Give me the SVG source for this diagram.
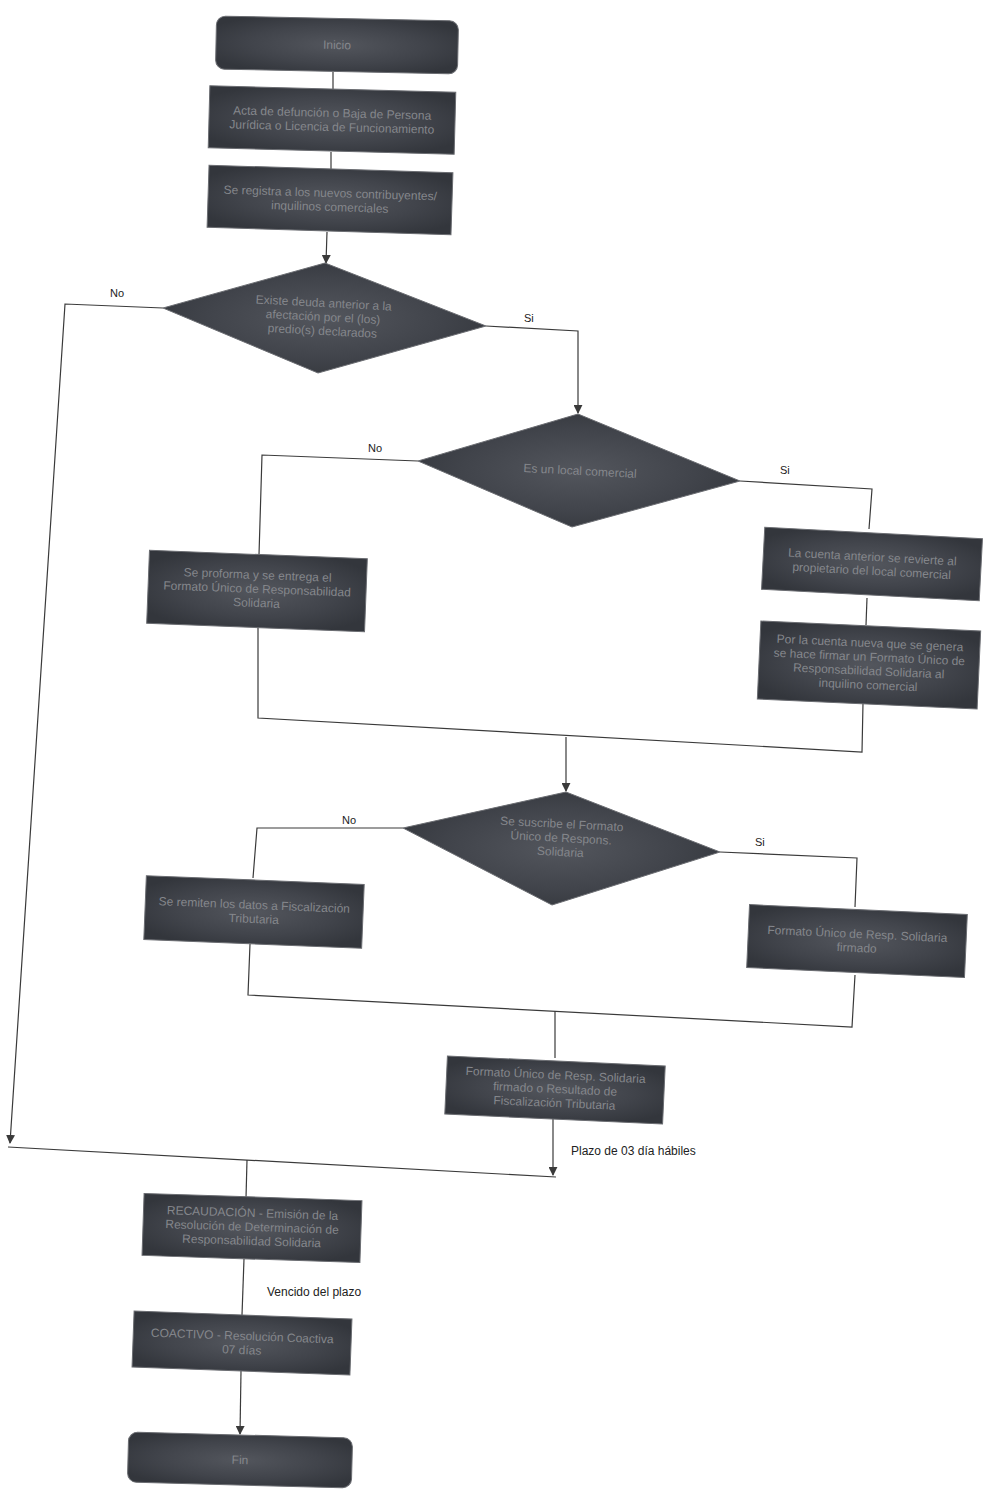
<svg xmlns="http://www.w3.org/2000/svg" width="992" height="1495" viewBox="0 0 992 1495">
<defs>
<radialGradient id="g" cx="50%" cy="50%" r="60%">
<stop offset="0" stop-color="#53565d"/>
<stop offset="0.6" stop-color="#41444b"/>
<stop offset="1" stop-color="#33363c"/>
</radialGradient>
<marker id="ar" viewBox="0 0 10 10" refX="9" refY="5" markerWidth="9" markerHeight="9" orient="auto" markerUnits="userSpaceOnUse">
<path d="M0,0 L10,5 L0,10 z" fill="#3a3a3a"/>
</marker>
<style>
.n{fill:url(#g);stroke:#6b6d72;stroke-width:1}
.t{font-family:"Liberation Sans",Arial,sans-serif;font-size:12px;fill:#85878c;text-anchor:middle}
.l{font-family:"Liberation Sans",Arial,sans-serif;font-size:11px;fill:#222}
.p{font-family:"Liberation Sans",Arial,sans-serif;font-size:12px;fill:#222}
.c{fill:none;stroke:#3a3a3a;stroke-width:1.2}
</style>
</defs>
<rect width="992" height="1495" fill="#ffffff"/>

<g id="connectors">
<path class="c" d="M333,72 L333,89"/>
<path class="c" d="M331,152 L331,169"/>
<path class="c" d="M327,232 L326,263" marker-end="url(#ar)"/>
<path class="c" d="M163,308 L65,304 L10,1143" marker-end="url(#ar)"/>
<path class="c" d="M486,326 L578,331 L578,413" marker-end="url(#ar)"/>
<path class="c" d="M418,461 L262,455 L259,555"/>
<path class="c" d="M740,481 L872,489 L869,529"/>
<path class="c" d="M867,598 L866,625"/>
<path class="c" d="M258,626 L258,718 L862,752 L863,703"/>
<path class="c" d="M566,737 L566,791" marker-end="url(#ar)"/>
<path class="c" d="M403,828 L257,828 L253,878"/>
<path class="c" d="M720,852 L857,858 L855,907"/>
<path class="c" d="M250,944 L248,995 L852,1027 L855,975"/>
<path class="c" d="M555,1011 L555,1058"/>
<path class="c" d="M553,1119 L553,1175" marker-end="url(#ar)"/>
<path class="c" d="M8,1147 L556,1177"/>
<path class="c" d="M247,1160 L246,1198"/>
<path class="c" d="M244,1259 L242,1315"/>
<path class="c" d="M241,1371 L240,1434" marker-end="url(#ar)"/>
<text class="l" x="110" y="297">No</text>
<text class="l" x="524" y="322">Si</text>
<text class="l" x="368" y="452">No</text>
<text class="l" x="780" y="474">Si</text>
<text class="l" x="342" y="824">No</text>
<text class="l" x="755" y="846">Si</text>
<text class="p" x="571" y="1155">Plazo de 03 día hábiles</text>
<text class="p" x="267" y="1296">Vencido del plazo</text>
</g>

<g id="inicio" transform="rotate(1.2 337 45)">
<rect class="n" x="216" y="18.5" width="242" height="53" rx="9"/>
<text class="t" x="337" y="49">Inicio</text>
</g>
<g id="acta" transform="rotate(1.5 332 120)">
<rect class="n" x="209" y="89" width="246" height="62"/>
<text class="t" x="332" y="117">Acta de defunción o Baja de Persona</text>
<text class="t" x="332" y="131">Jurídica o Licencia de Funcionamiento</text>
</g>
<g id="registra" transform="rotate(1.8 330 200)">
<rect class="n" x="208" y="169" width="244" height="62"/>
<text class="t" x="330" y="197">Se registra a los nuevos contribuyentes/</text>
<text class="t" x="330" y="211">inquilinos comerciales</text>
</g>
<g id="d1">
<polygon class="n" points="325,263 486,326 318,373 163,308"/>
<g transform="rotate(3 323 318)">
<text class="t" x="323" y="307">Existe deuda anterior a la</text>
<text class="t" x="323" y="321">afectación por el (los)</text>
<text class="t" x="323" y="335">predio(s) declarados</text>
</g>
</g>
<g id="d2">
<polygon class="n" points="578,414 740,481 572,527 418,461"/>
<text class="t" x="580" y="475" transform="rotate(3 580 471)">Es un local comercial</text>
</g>
<g id="proforma" transform="rotate(2.2 257 591)">
<rect class="n" x="148" y="554.5" width="218" height="73"/>
<text class="t" x="257" y="579">Se proforma y se entrega el</text>
<text class="t" x="257" y="593">Formato Único de Responsabilidad</text>
<text class="t" x="257" y="607">Solidaria</text>
</g>
<g id="cuenta" transform="rotate(3 872 564)">
<rect class="n" x="763" y="533" width="218" height="62"/>
<text class="t" x="872" y="561">La cuenta anterior se revierte al</text>
<text class="t" x="872" y="575">propietario del local comercial</text>
</g>
<g id="nueva" transform="rotate(2.6 869 665)">
<rect class="n" x="759" y="626" width="220" height="78"/>
<text class="t" x="869" y="647">Por la cuenta nueva que se genera</text>
<text class="t" x="869" y="661">se hace firmar un Formato Único de</text>
<text class="t" x="869" y="675">Responsabilidad Solidaria al</text>
<text class="t" x="869" y="689">inquilino comercial</text>
</g>
<g id="d3">
<polygon class="n" points="566,792 720,852 552,905 403,828"/>
<g transform="rotate(3 561 840)">
<text class="t" x="561" y="828">Se suscribe el Formato</text>
<text class="t" x="561" y="842">Único de Respons.</text>
<text class="t" x="561" y="856">Solidaria</text>
</g>
</g>
<g id="remiten" transform="rotate(2.3 254 912)">
<rect class="n" x="145" y="880" width="218" height="64"/>
<text class="t" x="254" y="909">Se remiten los datos a Fiscalización</text>
<text class="t" x="254" y="923">Tributaria</text>
</g>
<g id="firmado" transform="rotate(2.6 857 941)">
<rect class="n" x="748" y="909.5" width="218" height="63"/>
<text class="t" x="857" y="938">Formato Único de Resp. Solidaria</text>
<text class="t" x="857" y="952">firmado</text>
</g>
<g id="formato" transform="rotate(2.6 555 1090)">
<rect class="n" x="446" y="1061" width="218" height="58"/>
<text class="t" x="555" y="1079">Formato Único de Resp. Solidaria</text>
<text class="t" x="555" y="1093">firmado o Resultado de</text>
<text class="t" x="555" y="1107">Fiscalización Tributaria</text>
</g>
<g id="recaudacion" transform="rotate(1.9 252 1228)">
<rect class="n" x="143" y="1197" width="218" height="62"/>
<text class="t" x="252" y="1217">RECAUDACIÓN  - Emisión de la</text>
<text class="t" x="252" y="1231">Resolución de Determinación de</text>
<text class="t" x="252" y="1245">Responsabilidad Solidaria</text>
</g>
<g id="coactivo" transform="rotate(2.1 242 1343)">
<rect class="n" x="133" y="1315" width="218" height="56"/>
<text class="t" x="242" y="1340">COACTIVO  - Resolución Coactiva</text>
<text class="t" x="242" y="1354">07 días</text>
</g>
<g id="fin" transform="rotate(1.5 240 1460)">
<rect class="n" x="128" y="1435" width="224" height="50" rx="9"/>
<text class="t" x="240" y="1464">Fin</text>
</g>
</svg>
